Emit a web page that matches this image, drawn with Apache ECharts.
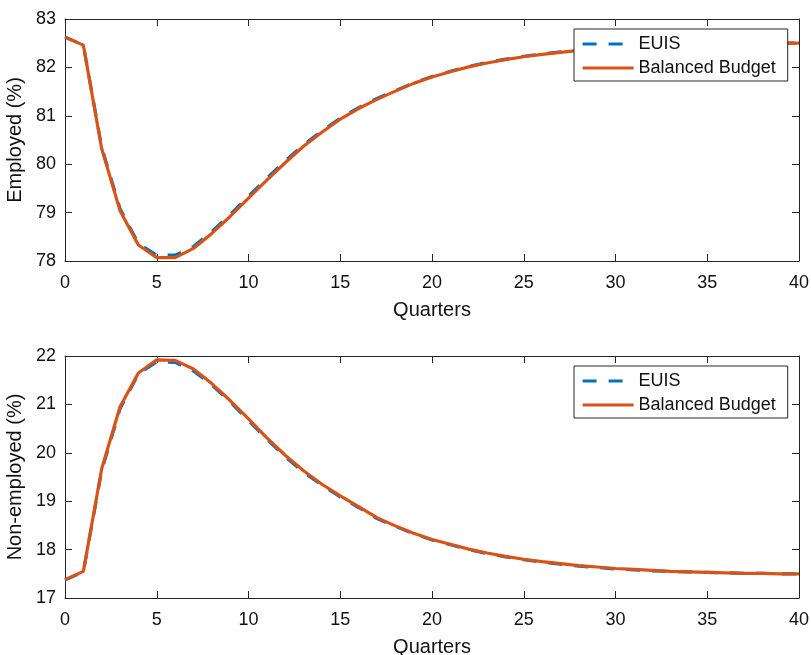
<!DOCTYPE html>
<html>
<head>
<meta charset="utf-8">
<script src="https://cdn.jsdelivr.net/npm/echarts@6/dist/echarts.min.js"></script>
<style>
html,body{margin:0;padding:0;background:#fff;}
#chart{width:811px;height:655px;}
</style>
</head>
<body>
<div id="chart"></div>
<script>
// ---- data ----
var quarters = [0,1,2,3,4,5,6,7,8,9,10,11,12,13,14,15,16,17,18,19,20,21,22,23,24,25,26,27,28,29,30,31,32,33,34,35,36,37,38,39,40];

var employedEUIS = [82.63,82.46,80.35,79.08,78.36,78.12,78.12,78.30,78.61,78.96,79.34,79.71,80.07,80.40,80.69,80.95,81.17,81.36,81.52,81.68,81.81,81.92,82.02,82.10,82.17,82.23,82.28,82.32,82.36,82.39,82.41,82.43,82.44,82.45,82.46,82.47,82.48,82.49,82.49,82.50,82.50];
var employedBB   = [82.62,82.46,80.32,79.04,78.33,78.07,78.07,78.26,78.57,78.92,79.30,79.67,80.03,80.37,80.66,80.93,81.15,81.34,81.51,81.67,81.80,81.91,82.01,82.09,82.16,82.22,82.27,82.31,82.35,82.38,82.40,82.42,82.44,82.45,82.46,82.47,82.48,82.49,82.49,82.50,82.50];

var nonEmpEUIS = [17.37,17.54,19.63,20.91,21.63,21.88,21.87,21.69,21.40,21.05,20.67,20.28,19.92,19.60,19.33,19.09,18.87,18.64,18.48,18.33,18.20,18.10,18.00,17.92,17.85,17.79,17.74,17.70,17.66,17.63,17.60,17.58,17.56,17.55,17.54,17.53,17.52,17.51,17.51,17.50,17.50];
var nonEmpBB   = [17.38,17.55,19.67,20.95,21.65,21.92,21.91,21.73,21.43,21.08,20.70,20.31,19.95,19.63,19.35,19.11,18.89,18.66,18.49,18.34,18.21,18.11,18.01,17.93,17.86,17.80,17.75,17.71,17.67,17.64,17.61,17.59,17.57,17.55,17.54,17.53,17.52,17.51,17.51,17.50,17.50];

var seriesNames = ['EUIS', 'Balanced Budget'];
var yNames = ['Employed (%)', 'Non-employed (%)'];
var xName = 'Quarters';
var xRange = [0, 40, 5];
var yRanges = [[78, 83, 1], [17, 22, 1]];

// ---- styling ----
var FONT = 'Liberation Sans, Arial, Helvetica, sans-serif';
var AX = '#262626';
var BLUE = '#0072BD';
var ORANGE = '#D95319';

function pairs(xs, ys){ return xs.map(function(x,i){ return [x, ys[i]]; }); }

var grids = [
  {left: 65, top: 19, width: 734, height: 242, containLabel: false, outerBoundsMode: 'none'},
  {left: 65, top: 356, width: 734, height: 242, containLabel: false, outerBoundsMode: 'none'}
];

var xAxes = [], yAxes = [], series = [], legends = [];
var dataSets = [[employedEUIS, employedBB], [nonEmpEUIS, nonEmpBB]];
var legendTops = [29, 366];

for (var g = 0; g < 2; g++) {
  var common = {
    gridIndex: g, type: 'value', min: xRange[0], max: xRange[1], interval: xRange[2],
    splitLine: {show: false},
    axisLine: {show: true, onZero: false, lineStyle: {color: AX, width: 1}},
    axisTick: {show: true, inside: true, length: 7, lineStyle: {color: AX, width: 1}}
  };
  xAxes.push(Object.assign({}, common, {
    position: 'bottom',
    name: xName, nameLocation: 'middle', nameGap: 39,
    nameTextStyle: {fontFamily: FONT, fontSize: 20, color: '#111'},
    axisLabel: {show: true, margin: 13, fontFamily: FONT, fontSize: 18, color: '#111'}
  }));
  xAxes.push(Object.assign({}, common, {
    position: 'top', axisLabel: {show: false}
  }));
  var yr = yRanges[g];
  var ycommon = {
    gridIndex: g, type: 'value', min: yr[0], max: yr[1], interval: yr[2],
    splitLine: {show: false},
    axisLine: {show: true, onZero: false, lineStyle: {color: AX, width: 1}},
    axisTick: {show: true, inside: true, length: 7, lineStyle: {color: AX, width: 1}}
  };
  yAxes.push(Object.assign({}, ycommon, {
    position: 'left',
    name: yNames[g], nameLocation: 'middle', nameGap: 33, nameRotate: 90,
    nameTextStyle: {fontFamily: FONT, fontSize: 20, color: '#111'},
    axisLabel: {show: true, margin: 9, fontFamily: FONT, fontSize: 18, color: '#111'}
  }));
  yAxes.push(Object.assign({}, ycommon, {
    position: 'right', axisLabel: {show: false}
  }));

  series.push({
    name: seriesNames[0], type: 'line', xAxisIndex: 2*g, yAxisIndex: 2*g,
    data: pairs(quarters, dataSets[g][0]), showSymbol: false, symbol: 'none',
    lineStyle: {color: BLUE, width: 3.2, type: [14, 12]}, itemStyle: {color: BLUE},
    animation: false, z: 2
  });
  series.push({
    name: seriesNames[1], type: 'line', xAxisIndex: 2*g, yAxisIndex: 2*g,
    data: pairs(quarters, dataSets[g][1]), showSymbol: false, symbol: 'none',
    lineStyle: {color: ORANGE, width: 3.2}, itemStyle: {color: ORANGE},
    animation: false, z: 3
  });

  legends.push({
    orient: 'vertical', left: 574, top: legendTops[g],
    data: seriesNames,
    itemWidth: 51, itemHeight: 14, itemGap: 4,
    padding: [5, 12, 3, 7],
    itemStyle: {opacity: 0},
    lineStyle: {width: 3.2},
    backgroundColor: '#fff', borderColor: AX, borderWidth: 1, borderRadius: 0,
    textStyle: {fontFamily: FONT, fontSize: 18, color: '#111', lineHeight: 20},
    selectedMode: false
  });
}

var chart = echarts.init(document.getElementById('chart'), null, {renderer: 'canvas'});
chart.setOption({
  animation: false,
  backgroundColor: '#fff',
  grid: grids,
  xAxis: xAxes,
  yAxis: yAxes,
  legend: legends,
  series: series
});
</script>
</body>
</html>
